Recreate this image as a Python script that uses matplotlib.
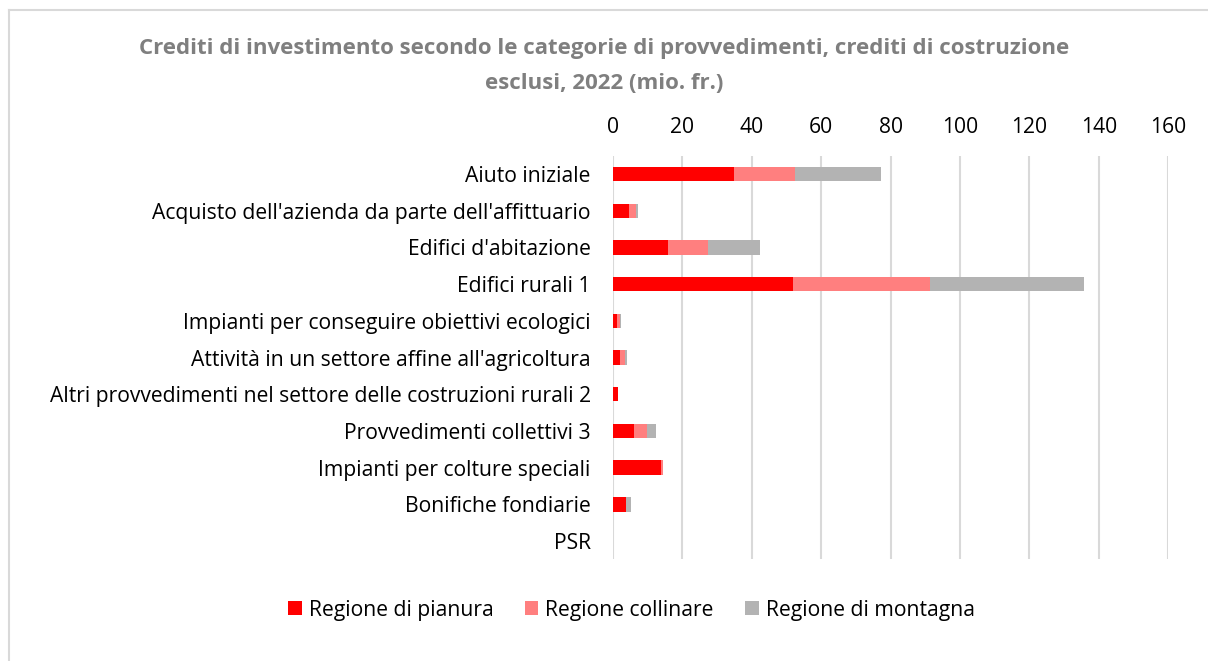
import matplotlib
matplotlib.use('Agg')
import matplotlib.pyplot as plt
import numpy as np
from matplotlib.lines import Line2D

plt.rcParams['font.family'] = ['Open Sans', 'DejaVu Sans']

categories = ['Aiuto iniziale',
              "Acquisto dell'azienda da parte dell'affittuario",
              "Edifici d'abitazione",
              'Edifici rurali 1',
              'Impianti per conseguire obiettivi ecologici',
              "Attività in un settore affine all'agricoltura",
              'Altri provvedimenti nel settore delle costruzioni rurali 2',
              'Provvedimenti collettivi 3',
              'Impianti per colture speciali',
              'Bonifiche fondiarie',
              'PSR']

pianura = [34.8, 4.7, 15.8, 51.9, 1.1, 2.0, 1.4, 6.1, 13.9, 3.6, 0.0]
collinare = [17.6, 1.9, 11.5, 39.5, 0.9, 1.3, 0.1, 3.8, 0.5, 0.1, 0.0]
montagna = [24.8, 0.5, 15.1, 44.3, 0.3, 0.8, 0.0, 2.4, 0.0, 1.4, 0.0]

series = ['Regione di pianura', 'Regione collinare', 'Regione di montagna']
colors = ['#ff0000', '#ff7f7f', '#b3b3b3']

xticks = [0, 20, 40, 60, 80, 100, 120, 140, 160]

fig = plt.figure(figsize=(12.08, 6.61), dpi=100)
ax = fig.add_axes([0.5075, 0.1537, 0.4595, 0.6108])

y = np.arange(len(categories))
left = np.zeros(len(categories))
for vals, name, col in zip([pianura, collinare, montagna], series, colors):
    ax.barh(y, vals, left=left, height=0.39, color=col, label=name, zorder=3)
    left = left + np.array(vals)

ax.set_ylim(len(categories) - 0.5, -0.5)
ax.set_xlim(0, 160)
ax.set_yticks(y)
ax.set_yticklabels(categories, fontsize=15.2)
ax.set_xticks(xticks)
ax.set_xticklabels([str(t) for t in xticks], fontsize=15.2)
ax.xaxis.tick_top()
ax.tick_params(length=0)
ax.tick_params(axis='y', pad=16)
ax.tick_params(axis='x', pad=13)
ax.grid(axis='x', color='#d9d9d9', linewidth=1.5, zorder=0)
for s in ax.spines.values():
    s.set_visible(False)

fig.text(0.5, 0.926, 'Crediti di investimento secondo le categorie di provvedimenti, crediti di costruzione',
         ha='center', va='center', fontsize=16, fontweight='bold', color='#7f7f7f')
fig.text(0.5, 0.874, 'esclusi, 2022 (mio. fr.)',
         ha='center', va='center', fontsize=16, fontweight='bold', color='#7f7f7f')

fig.legend(loc='center', bbox_to_anchor=(0.5228, 0.077), ncol=3, frameon=False,
           fontsize=15.2, handlelength=0.63, handleheight=0.63, handletextpad=0.33,
           columnspacing=1.5)

# chart frame (only top and left visible in the crop)
fig.add_artist(Line2D([9 / 1208, 1], [1 - 10 / 661, 1 - 10 / 661], color='#d9d9d9', lw=1.5))
fig.add_artist(Line2D([9 / 1208, 9 / 1208], [0, 1 - 10 / 661], color='#d9d9d9', lw=1.5))

fig.savefig('out.png', dpi=100, facecolor='white')
